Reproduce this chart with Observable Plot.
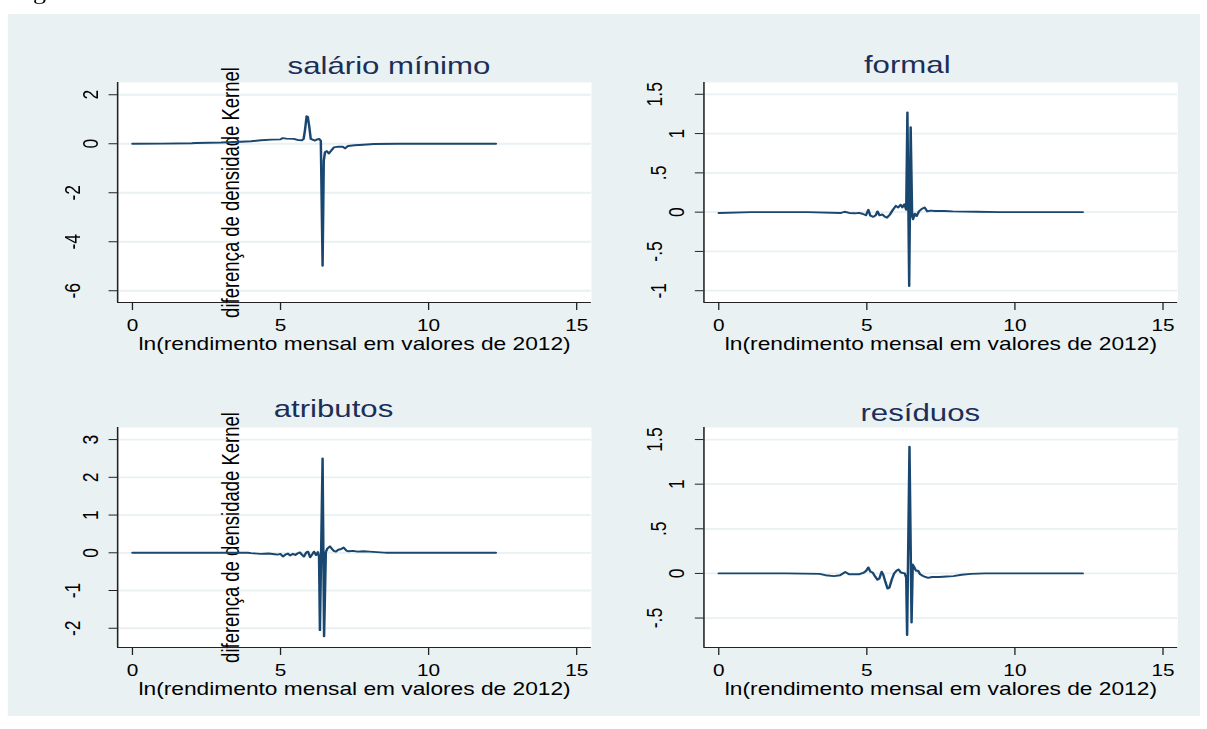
<!DOCTYPE html>
<html><head><meta charset="utf-8">
<script src="https://cdn.jsdelivr.net/npm/d3@7"></script>
<script src="https://cdn.jsdelivr.net/npm/@observablehq/plot@0.6"></script>
<style>
html,body{margin:0;padding:0;background:#fff;width:1207px;height:729px;overflow:hidden;}
#stage{position:absolute;left:0;top:0;width:928.46px;height:729px;transform:scaleX(1.3);transform-origin:0 0;font-family:"Liberation Sans",Arial,sans-serif;}
#bg{position:absolute;left:6.15px;top:14px;width:917px;height:702px;background:#e9f1f3;}
#g{position:absolute;left:25.4px;top:-18px;font:20px/20px "Liberation Serif",serif;color:#000;}
.panel{position:absolute;}
</style></head><body>
<div id="stage"><div id="g">g</div><div id="bg"></div></div>
<script>
// ---------- data ----------
const xLabel = "ln(rendimento mensal em valores de 2012)";
const yTitle = "diferença de densidade Kernel";
const xTicks = [0, 5, 10, 15];
const xDomain = [-0.5, 15.5];
const titles = ["salário mínimo", "formal", "atributos", "resíduos"];

// salário mínimo
const smX = [0,1.0,2.0,2.14,3.0,3.66,4.0,4.34,4.7,5.0,5.06,5.2,5.45,5.6,5.72,5.78,5.83,5.88,5.92,5.97,6.02,6.08,6.16,6.24,6.3,6.36,6.42,6.46,6.5,6.56,6.63,6.7,6.8,6.95,7.1,7.18,7.28,7.5,7.8,8.15,9.0,12.27];
const smY = [0,0.005,0.02,0.03,0.05,0.08,0.1,0.14,0.17,0.18,0.23,0.21,0.2,0.15,0.14,0.2,0.6,1.12,1.1,0.7,0.2,0.17,0.13,0.18,0.2,0.12,-4.98,-0.7,-0.35,-0.3,-0.4,-0.3,-0.15,-0.12,-0.12,-0.19,-0.09,-0.06,-0.04,-0.01,0,0];
const smYDomain = [-6.48, 2.5];
const smYTicks = [-6, -4, -2, 0, 2];
const smYLabels = ["-6", "-4", "-2", "0", "2"];

// formal
const fmX = [0,1.1,3.0,4.13,4.25,4.4,4.61,4.73,4.85,4.97,5.05,5.12,5.22,5.3,5.36,5.43,5.52,5.62,5.68,5.78,5.88,5.98,6.06,6.14,6.2,6.27,6.33,6.37,6.43,6.48,6.53,6.56,6.62,6.68,6.76,6.85,6.95,7.04,7.15,7.3,7.6,7.9,8.7,9.5,12.29];
const fmY = [-0.01,0,0,-0.01,0.005,-0.01,-0.015,-0.01,-0.02,-0.04,0.03,-0.045,-0.06,-0.04,0.01,-0.04,-0.03,-0.06,-0.07,-0.03,0.03,0.08,0.06,0.095,0.06,0.1,0.03,1.27,-0.94,1.08,-0.05,-0.09,-0.02,-0.05,0.01,0.04,0.06,0.01,0.02,0.015,0.015,0.01,0.005,0,0];
const fmYDomain = [-1.15, 1.65];
const fmYTicks = [-1, -0.5, 0, 0.5, 1, 1.5];
const fmYLabels = ["-1", "-.5", "0", ".5", "1", "1.5"];

// atributos
const atX = [0,3.9,4.0,4.33,4.6,4.8,4.9,5.0,5.08,5.18,5.25,5.32,5.42,5.5,5.57,5.65,5.72,5.79,5.87,5.93,6.0,6.08,6.13,6.2,6.26,6.3,6.33,6.42,6.47,6.53,6.58,6.67,6.74,6.8,6.87,6.95,7.05,7.13,7.22,7.3,7.45,7.6,7.8,8.0,8.5,8.6,12.27];
const atY = [0,0,-0.01,-0.03,-0.02,-0.04,-0.05,-0.03,-0.1,-0.04,-0.02,-0.07,-0.03,-0.06,-0.02,0.01,-0.05,-0.1,0.01,0.03,-0.12,-0.03,0.03,-0.06,0.02,-0.1,-2.05,2.5,-2.21,0.02,0.11,0.17,0.1,0.05,0.03,0.08,0.1,0.14,0.06,0.04,0.05,0.03,0.04,0.03,0.005,0,0];
const atYDomain = [-2.51, 3.32];
const atYTicks = [-2, -1, 0, 1, 2, 3];
const atYLabels = ["-2", "-1", "0", "1", "2", "3"];

// resíduos
const reX = [0,2.26,3.4,3.6,3.89,4.1,4.27,4.4,4.73,4.9,4.98,5.05,5.12,5.2,5.28,5.36,5.42,5.5,5.56,5.63,5.7,5.76,5.84,5.92,6.0,6.07,6.15,6.28,6.33,6.36,6.44,6.51,6.55,6.6,6.66,6.73,6.8,6.9,7.07,7.2,7.44,7.7,7.92,8.2,8.52,9.0,12.29];
const reY = [0,0,-0.005,-0.02,-0.03,-0.02,0.015,-0.01,-0.01,0.01,0.03,0.067,0.02,0.01,-0.035,-0.07,-0.06,0.02,-0.02,-0.1,-0.17,-0.16,-0.07,0,0.03,0.045,0.01,0,-0.05,-0.69,1.42,-0.55,0.1,0.07,0.03,0.03,-0.01,-0.03,-0.05,-0.04,-0.04,-0.035,-0.03,-0.015,-0.005,0,0];
const reYDomain = [-0.83, 1.635];
const reYTicks = [-0.5, 0, 0.5, 1, 1.5];
const reYLabels = ["-.5", "0", ".5", "1", "1.5"];

// ---------- layout / style ----------
const FONT = '"Liberation Sans", Arial, sans-serif';
const LINE = "#1a476f";
const BG = "#e9f1f3";
const AX = "#222";
const mL = 60, mR = 10, mT = 45, mB = 60, PW = 364.5, PH = 220;
const dxByLen = {1: -20.8, 2: -34.6, 3: -37.7};

const panels = [
  {xs: smX, ys: smY, yDomain: smYDomain, yTicks: smYTicks, yLabels: smYLabels, title: titles[0], tdx: 208.7, tdy: -25.2, yt: true, left: 29.8, top: 37},
  {xs: fmX, ys: fmY, yDomain: fmYDomain, yTicks: fmYTicks, yLabels: fmYLabels, title: titles[1], tdx: 156.4, tdy: -26.2, yt: false, left: 481.3, top: 37.3},
  {xs: atX, ys: atY, yDomain: atYDomain, yTicks: atYTicks, yLabels: atYLabels, title: titles[2], tdx: 166, tdy: -27.8, yt: true, left: 29.8, top: 382.3},
  {xs: reX, ys: reY, yDomain: reYDomain, yTicks: reYTicks, yLabels: reYLabels, title: titles[3], tdx: 166.4, tdy: -23.8, yt: false, left: 481.3, top: 382.3}
];

const stage = document.getElementById("stage");
for (const p of panels) {
  const data = p.xs.map((x, i) => ({x, y: p.ys[i]}));
  const ticks = p.yTicks.map((v, i) => ({v, label: p.yLabels[i], len: p.yLabels[i].length}));
  const lens = [...new Set(ticks.map(d => d.len))];
  const chart = Plot.plot({
    width: mL + PW + mR, height: mT + PH + mB,
    marginLeft: mL, marginRight: mR, marginTop: mT, marginBottom: mB,
    x: {domain: xDomain, label: null},
    y: {domain: p.yDomain, label: null},
    style: {background: "transparent", fontFamily: FONT, maxWidth: "none", overflow: "visible"},
    marks: [
      Plot.frame({fill: "white", stroke: null}),
      Plot.ruleY(p.yTicks, {stroke: BG, strokeWidth: 1.8}),
      p.yt ? Plot.text([yTitle], {frameAnchor: "left", dx: 87.1, rotate: -90, fontSize: 18.5, fill: "#000", textAnchor: "middle", lineAnchor: "middle"}) : null,
      Plot.line(data, {x: "x", y: "y", stroke: LINE, strokeWidth: 1.9, strokeLinejoin: "round"}),
      Plot.ruleX([xDomain[0]], {stroke: AX, strokeWidth: 1.2}),
      Plot.ruleY([p.yDomain[0]], {stroke: AX, strokeWidth: 1.2}),
      Plot.axisX({ticks: xTicks, tickSize: 8, tickPadding: 9.3, fontSize: 16, label: null, stroke: AX, fill: "#000"}),
      Plot.axisY({ticks: p.yTicks, tickSize: 6.5, tickFormat: () => "", label: null, stroke: AX}),
      ...lens.map(n => Plot.text(ticks.filter(d => d.len === n), {y: "v", text: "label", frameAnchor: "left", dx: dxByLen[n], rotate: -90, fontSize: 17.5, fill: "#000", textAnchor: "middle", lineAnchor: "middle"})),
      Plot.text([xLabel], {frameAnchor: "bottom", dy: 34.8, lineAnchor: "top", textAnchor: "middle", fontSize: 17.5, fill: "#000"}),
      Plot.text([p.title], {frameAnchor: "top-left", dx: p.tdx, dy: p.tdy, lineAnchor: "top", textAnchor: "middle", fontSize: 24, fill: "#1c2e57"})
    ]
  });
  const div = document.createElement("div");
  div.className = "panel";
  div.style.left = p.left + "px";
  div.style.top = p.top + "px";
  div.style.width = (mL + PW + mR) + "px";
  div.appendChild(chart);
  stage.appendChild(div);
}
</script>
</body></html>
